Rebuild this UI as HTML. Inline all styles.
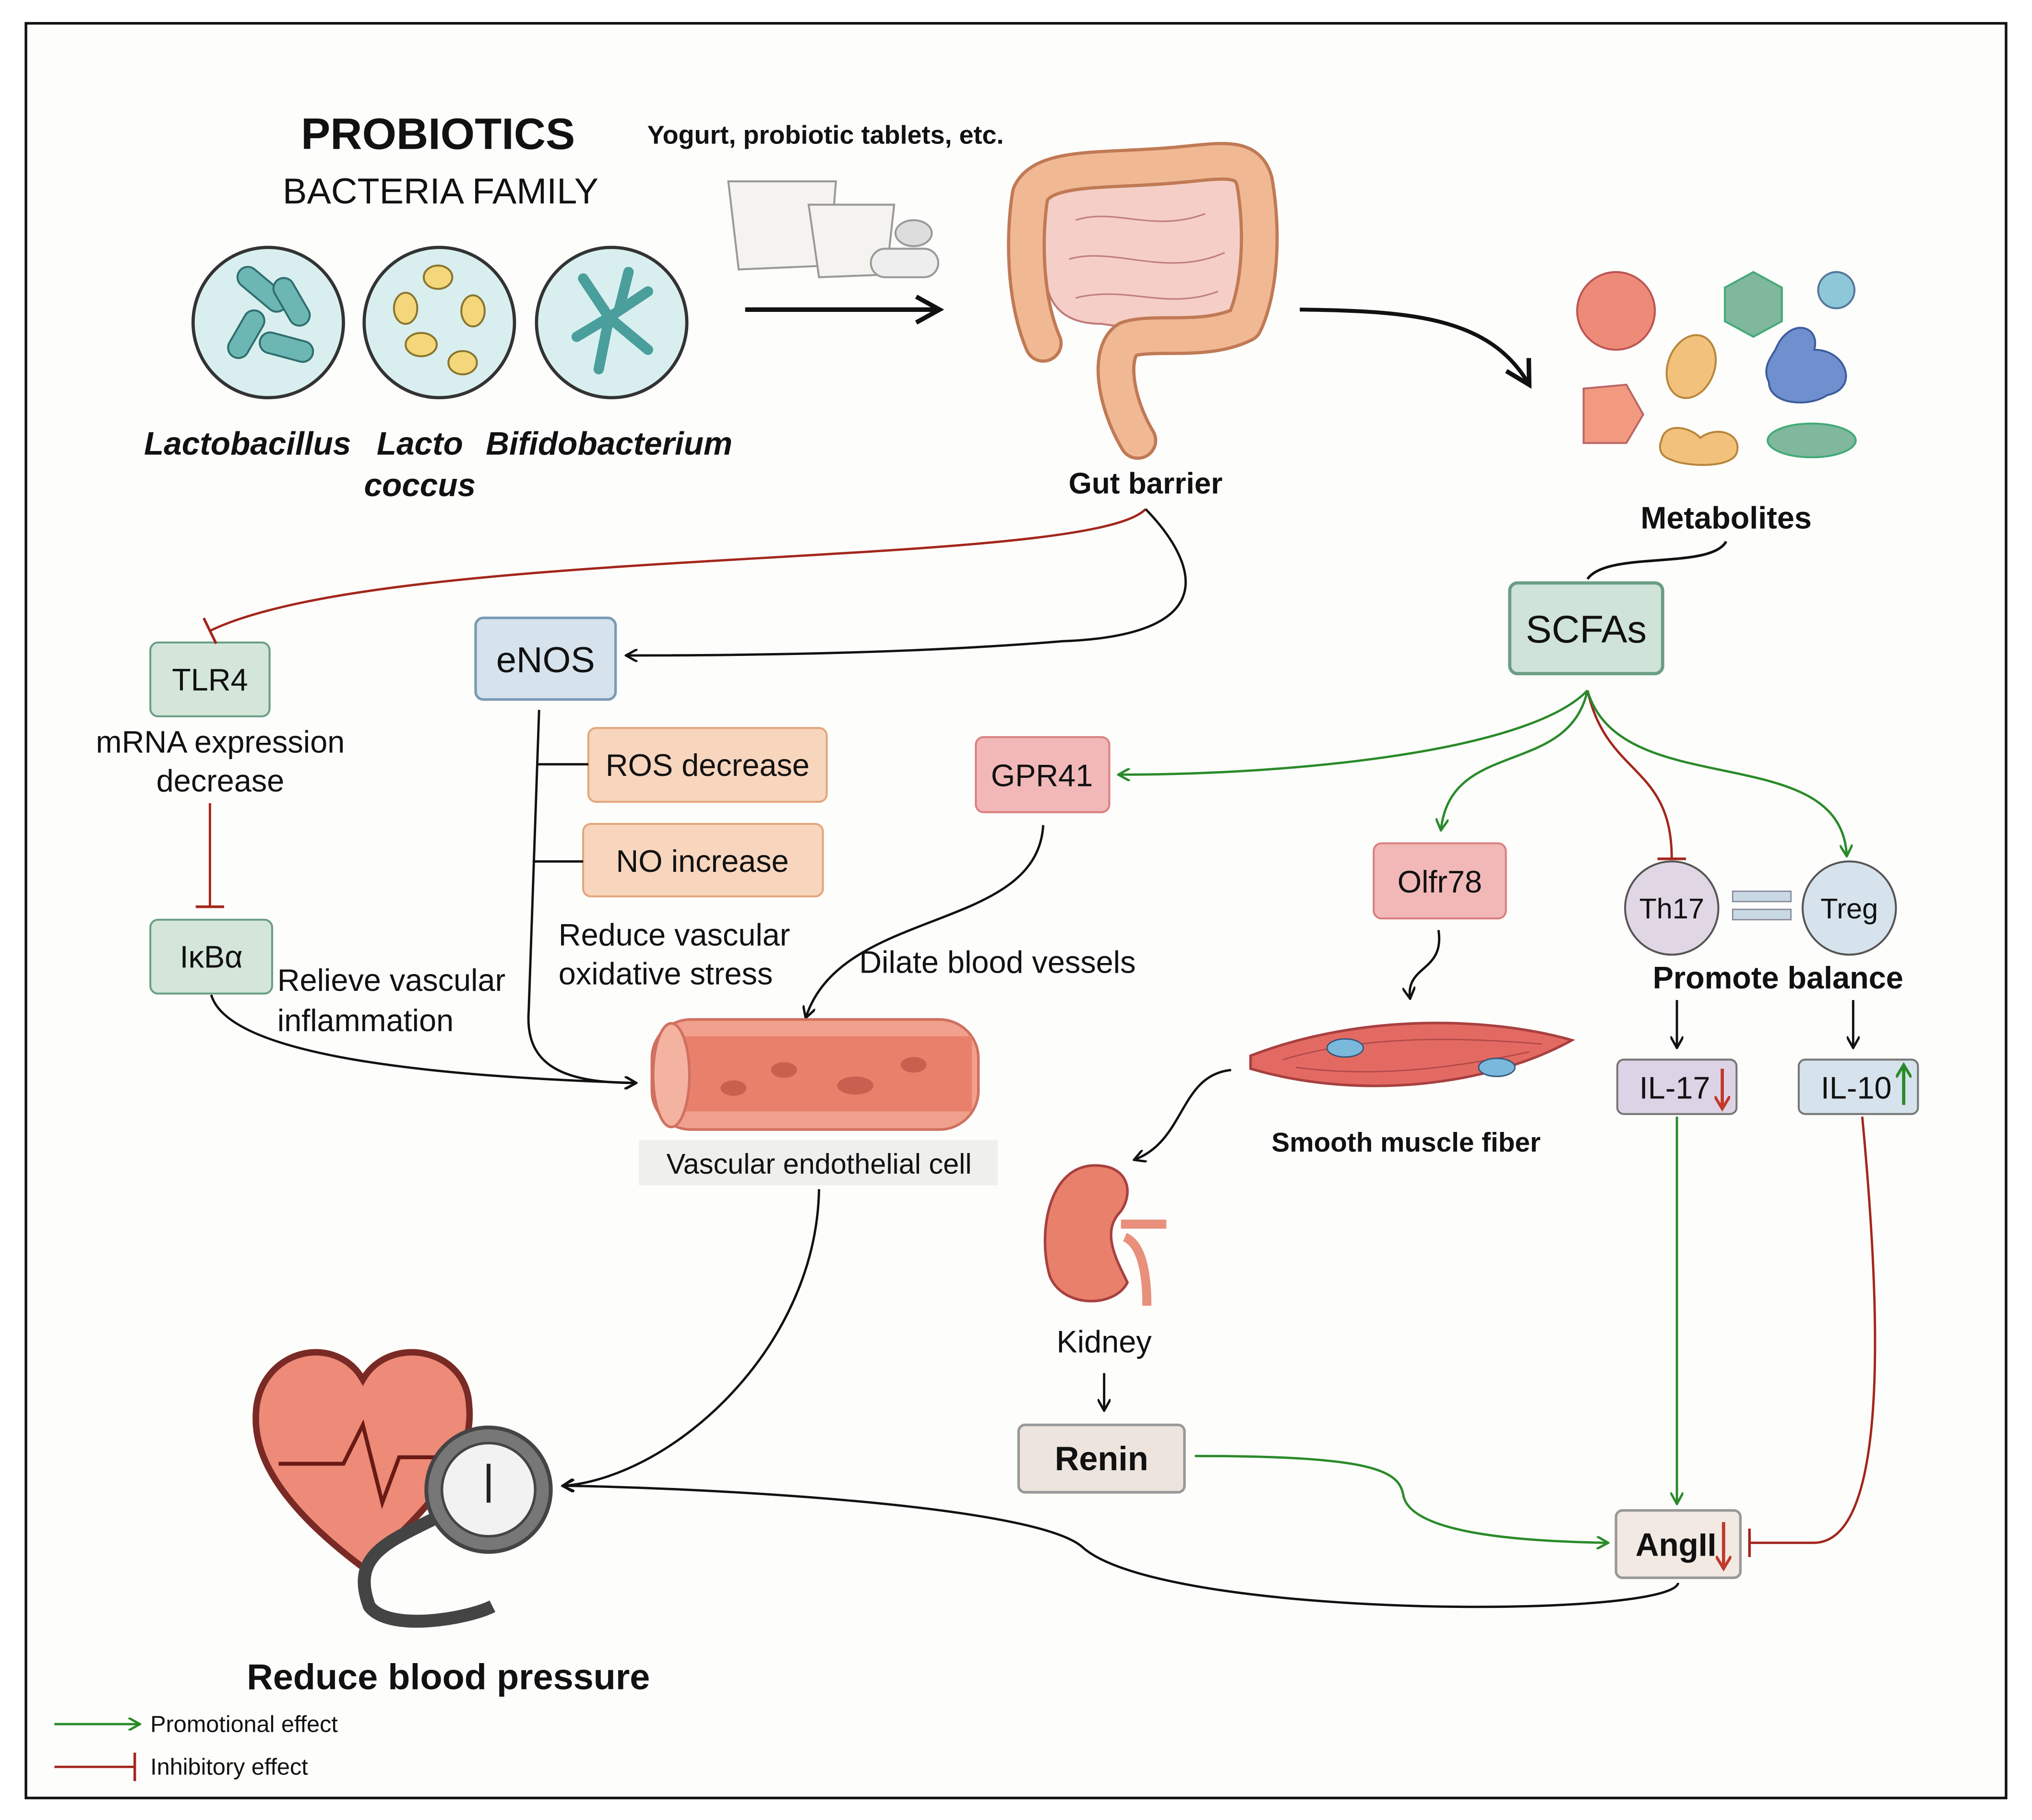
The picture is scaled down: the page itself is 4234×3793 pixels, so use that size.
<!DOCTYPE html>
<html><head><meta charset="utf-8"><style>
html,body{margin:0;padding:0;background:#fff}
svg{display:block}
text{font-family:"Liberation Sans",sans-serif;fill:#111}
</style></head><body>
<svg width="4234" height="3793" viewBox="0 0 1568 1405" preserveAspectRatio="none" xmlns="http://www.w3.org/2000/svg">
<defs>
<marker id="ab" markerWidth="10" markerHeight="10" refX="8" refY="5" orient="auto" markerUnits="userSpaceOnUse"><path d="M0,0 L9,5 L0,10" fill="none" stroke="#111" stroke-width="1.8"/></marker>
<marker id="abig" markerWidth="24" markerHeight="24" refX="20" refY="12" orient="auto" markerUnits="userSpaceOnUse"><path d="M2,2 L20,12 L2,22" fill="none" stroke="#111" stroke-width="3.5"/></marker>
<marker id="ag" markerWidth="10" markerHeight="10" refX="8" refY="5" orient="auto" markerUnits="userSpaceOnUse"><path d="M0,0 L9,5 L0,10" fill="none" stroke="#2a8a2a" stroke-width="1.8"/></marker>
<marker id="ir" markerWidth="4" markerHeight="22" refX="2" refY="11" orient="auto" markerUnits="userSpaceOnUse"><path d="M2,0 L2,22" stroke="#a3261c" stroke-width="2"/></marker>
<marker id="mr" markerWidth="12" markerHeight="12" refX="9" refY="6" orient="auto" markerUnits="userSpaceOnUse"><path d="M0,0 L10,6 L0,12" fill="none" stroke="#c0392b" stroke-width="2.2"/></marker>
<marker id="mg" markerWidth="12" markerHeight="12" refX="9" refY="6" orient="auto" markerUnits="userSpaceOnUse"><path d="M0,0 L10,6 L0,12" fill="none" stroke="#2a8a2a" stroke-width="2.2"/></marker>
</defs>
<rect x="0" y="0" width="1568" height="1405" fill="#fff"/>
<rect x="20" y="18" width="1528" height="1370" fill="#fdfdfb" stroke="#111" stroke-width="2"/>

<text x="338" y="115" font-size="34" font-weight="bold" text-anchor="middle" fill="#222">PROBIOTICS</text>
<text x="340" y="157" font-size="28" text-anchor="middle" fill="#222">BACTERIA FAMILY</text>
<g stroke="#333" stroke-width="2.5" fill="#d9efef">
<circle cx="207" cy="249" r="58"/><circle cx="339" cy="249" r="58"/><circle cx="472" cy="249" r="58"/></g>
<g fill="#6cb6b4" stroke="#2f6f6e" stroke-width="1.5">
<rect x="180" y="215" width="45" height="16" rx="8" transform="rotate(40 202 223)"/>
<rect x="205" y="225" width="40" height="16" rx="8" transform="rotate(60 225 233)"/>
<rect x="170" y="250" width="40" height="16" rx="8" transform="rotate(-60 190 258)"/>
<rect x="200" y="260" width="42" height="16" rx="8" transform="rotate(15 221 268)"/></g>
<g fill="#f4d77a" stroke="#8a7530" stroke-width="1.5">
<ellipse cx="338" cy="214" rx="11" ry="9"/><ellipse cx="313" cy="238" rx="9" ry="12"/><ellipse cx="365" cy="240" rx="9" ry="12"/>
<ellipse cx="325" cy="266" rx="12" ry="9"/><ellipse cx="357" cy="280" rx="11" ry="9"/></g>
<g stroke="#4a9e9c" stroke-width="8" stroke-linecap="round" fill="none">
<path d="M450,215 L470,245 L462,285"/><path d="M470,245 L500,225"/><path d="M470,245 L500,270"/><path d="M445,260 L470,245"/><path d="M485,210 L478,238"/></g>
<g font-size="25" font-weight="bold" font-style="italic" text-anchor="middle" fill="#111">
<text x="191" y="351">Lactobacillus</text><text x="324" y="351">Lacto</text><text x="324" y="383">coccus</text><text x="470" y="351">Bifidobacterium</text></g>
<text x="637" y="111" font-size="20" font-weight="bold" text-anchor="middle">Yogurt, probiotic tablets, etc.</text>
<g stroke="#999" stroke-width="1.5">
<path d="M562,140 L645,140 L640,205 L570,208 Z" fill="#f5f3ef"/>
<path d="M624,158 L690,158 L684,212 L632,214 Z" fill="#f5f3ef"/>
<ellipse cx="705" cy="180" rx="14" ry="10" fill="#ddd"/>
<rect x="672" y="192" width="52" height="22" rx="11" fill="#eee"/></g>
<line x1="575" y1="239" x2="725" y2="239" stroke="#111" stroke-width="3.5" marker-end="url(#abig)"/>

<!-- gut -->
<path d="M805,150 C815,135 860,135 900,132 C930,130 955,125 962,140 C970,170 965,220 955,245 C930,255 880,255 850,250 C820,250 808,235 806,210 Z" fill="#f5cfc7" stroke="#c07a7a" stroke-width="1.5"/>
<g fill="none" stroke-linecap="round" stroke-linejoin="round">
<path d="M805,265 C790,230 790,180 795,150 C805,128 850,132 900,128 C940,125 962,118 968,140 C975,180 972,225 960,250 C930,265 890,255 870,262 C855,272 860,310 878,340" stroke="#c07a55" stroke-width="30"/>
<path d="M805,265 C790,230 790,180 795,150 C805,128 850,132 900,128 C940,125 962,118 968,140 C975,180 972,225 960,250 C930,265 890,255 870,262 C855,272 860,310 878,340" stroke="#f0b994" stroke-width="25"/>
</g>
<g fill="none" stroke="#c08080" stroke-width="1.2"><path d="M830,170 C860,160 890,180 930,165"/><path d="M825,200 C860,190 900,215 945,195"/><path d="M830,230 C870,220 900,240 940,225"/></g>
<text x="884" y="381" font-size="23" font-weight="bold" text-anchor="middle">Gut barrier</text>
<path d="M1003,239 C1090,240 1150,245 1180,297" fill="none" stroke="#111" stroke-width="3" marker-end="url(#abig)"/>

<circle cx="1247" cy="240" r="30" fill="#ee8a78" stroke="#b55" stroke-width="1.5"/>
<polygon points="1353,210 1375,222 1375,248 1353,260 1331,248 1331,222" fill="#7fb89d" stroke="#4a7" stroke-width="1.5"/>
<circle cx="1417" cy="224" r="14" fill="#8ec7d8" stroke="#579" stroke-width="1.5"/>
<ellipse cx="1305" cy="283" rx="18" ry="25" fill="#f2c27d" stroke="#b8863c" stroke-width="1.5" transform="rotate(20 1305 283)"/>
<path d="M1370,270 C1380,245 1405,250 1400,270 C1425,270 1435,300 1410,305 C1395,315 1365,312 1365,295 C1360,285 1365,278 1370,270 Z" fill="#6f8fcf" stroke="#3e5c9c" stroke-width="1.5"/>
<path d="M1222,300 L1255,297 L1268,320 L1255,342 L1222,342 Z" fill="#f29a80" stroke="#b66" stroke-width="1.5"/>
<path d="M1282,340 C1285,325 1305,330 1312,338 C1325,328 1345,335 1340,350 C1335,362 1300,360 1290,355 C1280,352 1280,345 1282,340 Z" fill="#f2c27d" stroke="#b8863c" stroke-width="1.5"/>
<ellipse cx="1398" cy="340" rx="34" ry="13" fill="#7fb89d" stroke="#4a7" stroke-width="1.5"/>
<text x="1332" y="408" font-size="24" font-weight="bold" text-anchor="middle" fill="#333">Metabolites</text>
<path d="M1332,418 C1320,440 1240,425 1225,447" fill="none" stroke="#111" stroke-width="2"/>

<rect x="1165" y="450" width="118" height="70" rx="6" fill="#cfe3d9" stroke="#6a9e84" stroke-width="2.5"/>
<text x="1224" y="496" font-size="30" text-anchor="middle">SCFAs</text>

<rect x="116" y="496" width="92" height="57" rx="6" fill="#d3e6d9" stroke="#6a9e84" stroke-width="1.5"/>
<text x="162" y="533" font-size="24" text-anchor="middle">TLR4</text>
<text x="170" y="581" font-size="24" text-anchor="middle">mRNA expression</text>
<text x="170" y="611" font-size="24" text-anchor="middle">decrease</text>
<line x1="162" y1="620" x2="162" y2="700" stroke="#a3261c" stroke-width="1.8" marker-end="url(#ir)"/>
<rect x="116" y="710" width="94" height="57" rx="6" fill="#d3e6d9" stroke="#6a9e84" stroke-width="1.5"/>
<text x="163" y="747" font-size="24" text-anchor="middle">IκBα</text>
<text x="214" y="765" font-size="24">Relieve vascular</text>
<text x="214" y="796" font-size="24">inflammation</text>

<rect x="367" y="477" width="108" height="63" rx="6" fill="#d6e3ec" stroke="#7a9bb5" stroke-width="2"/>
<text x="421" y="519" font-size="28" text-anchor="middle">eNOS</text>
<rect x="454" y="562" width="184" height="57" rx="6" fill="#f8d5bd" stroke="#e2a67c" stroke-width="1.5"/>
<text x="546" y="599" font-size="24" text-anchor="middle">ROS decrease</text>
<rect x="450" y="636" width="185" height="56" rx="6" fill="#f8d5bd" stroke="#e2a67c" stroke-width="1.5"/>
<text x="542" y="673" font-size="24" text-anchor="middle">NO increase</text>
<path d="M416,548 L408,780 C405,820 430,836 490,836" fill="none" stroke="#111" stroke-width="1.8" marker-end="url(#ab)"/>
<line x1="415" y1="590" x2="454" y2="590" stroke="#111" stroke-width="1.8"/>
<line x1="411" y1="665" x2="450" y2="665" stroke="#111" stroke-width="1.8"/>
<text x="431" y="730" font-size="24">Reduce vascular</text>
<text x="431" y="760" font-size="24">oxidative stress</text>
<path d="M163,768 C175,810 300,830 490,836" fill="none" stroke="#111" stroke-width="1.8" marker-end="url(#ab)"/>

<path d="M884,393 C840,440 300,420 162,487" fill="none" stroke="#a3261c" stroke-width="1.8" marker-end="url(#ir)"/>
<path d="M884,393 C920,430 950,490 820,495 C700,505 560,506 484,506" fill="none" stroke="#111" stroke-width="1.8" marker-end="url(#ab)"/>

<rect x="753" y="569" width="103" height="58" rx="6" fill="#f2b8b8" stroke="#d98080" stroke-width="1.5"/>
<text x="804" y="607" font-size="24" text-anchor="middle">GPR41</text>
<path d="M1225,533 C1180,580 1000,598 864,598" fill="none" stroke="#2a8a2a" stroke-width="1.8" marker-end="url(#ag)"/>
<text x="663" y="751" font-size="24">Dilate blood vessels</text>
<path d="M805,637 C800,720 650,700 622,785" fill="none" stroke="#111" stroke-width="1.8" marker-end="url(#ab)"/>

<rect x="503" y="787" width="252" height="85" rx="30" fill="#f0a08c" stroke="#d07060" stroke-width="2"/>
<rect x="510" y="800" width="240" height="58" fill="#e8806c"/>
<ellipse cx="518" cy="830" rx="14" ry="40" fill="#f4b3a0" stroke="#d07060" stroke-width="2"/>
<g fill="#c9604f"><ellipse cx="566" cy="840" rx="10" ry="6"/><ellipse cx="605" cy="826" rx="10" ry="6"/><ellipse cx="660" cy="838" rx="14" ry="7"/><ellipse cx="705" cy="822" rx="10" ry="6"/></g>
<rect x="493" y="880" width="277" height="35" fill="#efefed"/>
<text x="632" y="906" font-size="22" text-anchor="middle" fill="#222">Vascular endothelial cell</text>
<path d="M632,918 C630,1040 520,1140 435,1147" fill="none" stroke="#111" stroke-width="1.8" marker-end="url(#ab)"/>

<path d="M1225,533 C1210,600 1120,570 1112,640" fill="none" stroke="#2a8a2a" stroke-width="1.8" marker-end="url(#ag)"/>
<path d="M1225,533 C1240,600 1290,590 1290,663" fill="none" stroke="#a3261c" stroke-width="1.8" marker-end="url(#ir)"/>
<path d="M1225,533 C1250,620 1420,570 1425,660" fill="none" stroke="#2a8a2a" stroke-width="1.8" marker-end="url(#ag)"/>

<rect x="1060" y="651" width="102" height="58" rx="6" fill="#f2b8b8" stroke="#d98080" stroke-width="1.5"/>
<text x="1111" y="689" font-size="24" text-anchor="middle">Olfr78</text>
<circle cx="1290" cy="701" r="36" fill="#e1d6e3" stroke="#555" stroke-width="1.5"/>
<text x="1290" y="709" font-size="22" text-anchor="middle">Th17</text>
<circle cx="1427" cy="701" r="36" fill="#d6e3ec" stroke="#555" stroke-width="1.5"/>
<text x="1427" y="709" font-size="22" text-anchor="middle">Treg</text>
<rect x="1337" y="688" width="45" height="8" fill="#c9d9e4" stroke="#889" stroke-width="1"/>
<rect x="1337" y="702" width="45" height="8" fill="#c9d9e4" stroke="#889" stroke-width="1"/>
<text x="1372" y="763" font-size="24" font-weight="bold" text-anchor="middle">Promote balance</text>
<line x1="1294" y1="772" x2="1294" y2="808" stroke="#111" stroke-width="1.8" marker-end="url(#ab)"/>
<line x1="1430" y1="772" x2="1430" y2="808" stroke="#111" stroke-width="1.8" marker-end="url(#ab)"/>
<rect x="1248" y="818" width="92" height="42" rx="5" fill="#ddd3e6" stroke="#777" stroke-width="1.5"/>
<text x="1265" y="848" font-size="24">IL-17</text>
<line x1="1329" y1="825" x2="1329" y2="855" stroke="#c0392b" stroke-width="2.5" marker-end="url(#mr)"/>
<rect x="1388" y="818" width="92" height="42" rx="5" fill="#d6e3ec" stroke="#777" stroke-width="1.5"/>
<text x="1405" y="848" font-size="24">IL-10</text>
<line x1="1469" y1="853" x2="1469" y2="823" stroke="#2a8a2a" stroke-width="2.5" marker-end="url(#mg)"/>

<path d="M965,815 C1050,782 1150,785 1213,803 C1150,838 1050,850 965,825 Z" fill="#e36a62" stroke="#a84040" stroke-width="2"/>
<g fill="none" stroke="#b04848" stroke-width="1"><path d="M990,818 C1050,800 1120,800 1190,806"/><path d="M1000,824 C1060,832 1120,825 1180,812"/></g>
<g fill="#7ab8dc" stroke="#357" stroke-width="1"><ellipse cx="1038" cy="809" rx="14" ry="7"/><ellipse cx="1155" cy="824" rx="14" ry="7"/></g>
<text x="1085" y="889" font-size="21" font-weight="bold" text-anchor="middle" fill="#222">Smooth muscle fiber</text>
<path d="M1110,718 C1115,750 1085,745 1088,770" fill="none" stroke="#111" stroke-width="1.8" marker-end="url(#ab)"/>
<path d="M950,826 C910,830 915,880 876,895" fill="none" stroke="#111" stroke-width="1.8" marker-end="url(#ab)"/>

<path d="M850,900 C810,895 800,950 810,985 C820,1010 860,1010 870,990 C860,970 850,950 865,935 C875,920 870,902 850,900 Z" fill="#e8806c" stroke="#a84040" stroke-width="2"/>
<path d="M865,945 L900,945 M868,955 C880,960 885,980 885,1008" fill="none" stroke="#e8907c" stroke-width="7"/>
<text x="852" y="1044" font-size="24" text-anchor="middle">Kidney</text>
<line x1="852" y1="1060" x2="852" y2="1088" stroke="#111" stroke-width="1.8" marker-end="url(#ab)"/>
<rect x="786" y="1100" width="128" height="52" rx="5" fill="#ede5dd" stroke="#999" stroke-width="2"/>
<text x="850" y="1135" font-size="26" font-weight="bold" text-anchor="middle">Renin</text>
<path d="M922,1124 C1060,1124 1080,1135 1083,1155 C1090,1185 1180,1190 1240,1191" fill="none" stroke="#2a8a2a" stroke-width="1.8" marker-end="url(#ag)"/>
<line x1="1294" y1="862" x2="1294" y2="1160" stroke="#2a8a2a" stroke-width="1.8" marker-end="url(#ag)"/>
<path d="M1437,862 C1450,1000 1460,1190 1400,1191 L1350,1191" fill="none" stroke="#a3261c" stroke-width="1.8" marker-end="url(#ir)"/>
<rect x="1247" y="1166" width="96" height="52" rx="5" fill="#f1e9e2" stroke="#999" stroke-width="2"/>
<text x="1262" y="1201" font-size="25" font-weight="bold">AngII</text>
<line x1="1330" y1="1175" x2="1330" y2="1210" stroke="#c0392b" stroke-width="2.5" marker-end="url(#mr)"/>
<path d="M1295,1222 C1290,1250 900,1250 836,1195 C800,1160 520,1148 435,1147" fill="none" stroke="#111" stroke-width="1.8" marker-end="url(#ab)"/>

<path d="M280,1210 C200,1150 195,1110 198,1085 C205,1040 260,1030 280,1065 C300,1030 360,1040 362,1085 C365,1115 350,1150 280,1210 Z" fill="#ee8a78" stroke="#7a2a25" stroke-width="5"/>
<path d="M215,1130 L265,1130 L280,1100 L295,1160 L308,1125 L340,1125" fill="none" stroke="#6a1a15" stroke-width="3"/>
<path d="M340,1170 C300,1190 270,1200 285,1240 C300,1260 360,1250 380,1240" fill="none" stroke="#444" stroke-width="10"/>
<circle cx="377" cy="1150" r="48" fill="#777" stroke="#444" stroke-width="3"/>
<circle cx="377" cy="1150" r="36" fill="#f2f2f2" stroke="#444" stroke-width="2"/>
<line x1="377" y1="1130" x2="377" y2="1160" stroke="#222" stroke-width="3"/>
<text x="346" y="1304" font-size="28" font-weight="bold" text-anchor="middle">Reduce blood pressure</text>

<line x1="42" y1="1331" x2="107" y2="1331" stroke="#2a8a2a" stroke-width="1.8" marker-end="url(#ag)"/>
<text x="116" y="1337" font-size="18" fill="#222">Promotional effect</text>
<line x1="42" y1="1364" x2="104" y2="1364" stroke="#a3261c" stroke-width="1.8" marker-end="url(#ir)"/>
<text x="116" y="1370" font-size="18" fill="#222">Inhibitory effect</text>
</svg>
</body></html>
